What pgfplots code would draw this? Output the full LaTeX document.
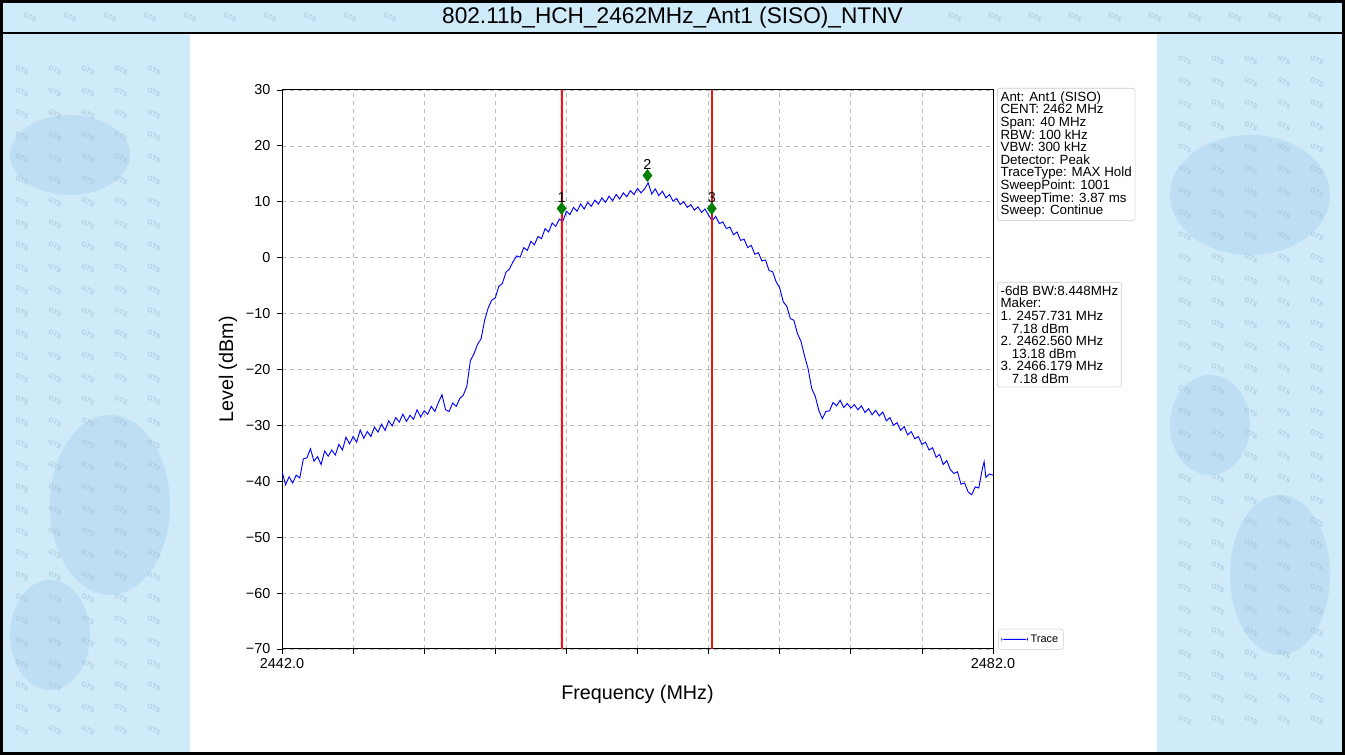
\documentclass[border=0pt]{standalone}
\usepackage{pgfplots}
\pgfplotsset{compat=1.18}
\usepackage{fontspec}
\setmainfont{Liberation Sans}
\definecolor{bgblue}{RGB}{207,234,249}
\definecolor{cloud}{RGB}{190,223,243}
\definecolor{wm}{RGB}{160,190,212}
\definecolor{mkgreen}{RGB}{0,128,0}
\definecolor{vred}{RGB}{240,20,20}
\definecolor{boxgray}{RGB}{204,204,204}

\pgfplotstableread{
f v
2442.0 -38.2
2442.2 -40.6
2442.4 -39.2
2442.6 -40.3
2442.8 -38.9
2443.0 -39.4
2443.2 -36.0
2443.4 -35.8
2443.6 -34.2
2443.8 -36.4
2444.0 -35.6
2444.2 -37.0
2444.4 -34.6
2444.6 -35.5
2444.8 -34.4
2445.0 -35.3
2445.2 -33.4
2445.4 -34.4
2445.6 -32.1
2445.8 -33.3
2446.0 -32.0
2446.2 -33.0
2446.4 -30.8
2446.6 -32.3
2446.8 -31.1
2447.0 -32.0
2447.2 -30.3
2447.4 -31.2
2447.6 -29.8
2447.8 -30.9
2448.0 -29.2
2448.2 -30.1
2448.4 -28.6
2448.6 -29.4
2448.8 -28.0
2449.0 -29.3
2449.2 -28.2
2449.4 -28.9
2449.6 -27.2
2449.8 -28.5
2450.0 -27.4
2450.2 -28.0
2450.4 -26.6
2450.6 -27.5
2450.8 -25.9
2451.0 -24.5
2451.2 -27.2
2451.4 -27.5
2451.6 -26.0
2451.8 -26.6
2452.0 -25.2
2452.2 -24.6
2452.4 -23.0
2452.6 -18.4
2452.8 -17.2
2453.0 -15.5
2453.2 -14.5
2453.4 -11.2
2453.6 -9.0
2453.8 -7.6
2454.0 -7.2
2454.2 -5.1
2454.4 -4.6
2454.6 -2.6
2454.8 -2.0
2455.0 -0.7
2455.2 0.3
2455.4 0.1
2455.6 1.8
2455.8 1.3
2456.0 2.9
2456.2 2.3
2456.4 3.8
2456.6 3.4
2456.8 5.2
2457.0 4.6
2457.2 6.2
2457.4 5.6
2457.6 6.9
2457.8 6.5
2458.0 8.3
2458.2 7.7
2458.4 9.0
2458.6 8.3
2458.8 9.6
2459.0 8.7
2459.2 9.9
2459.4 9.2
2459.6 10.3
2459.8 9.6
2460.0 10.7
2460.2 9.9
2460.4 11.0
2460.6 10.2
2460.8 11.3
2461.0 10.5
2461.2 11.6
2461.4 10.9
2461.6 12.0
2461.8 11.3
2462.0 12.4
2462.2 11.6
2462.4 12.3
2462.6 13.4
2462.8 11.4
2463.0 12.3
2463.2 11.1
2463.4 11.9
2463.6 10.7
2463.8 11.3
2464.0 10.1
2464.2 10.6
2464.4 9.5
2464.6 10.0
2464.8 9.0
2465.0 9.5
2465.2 8.5
2465.4 9.1
2465.6 8.1
2465.8 8.7
2466.0 7.6
2466.2 6.6
2466.4 7.4
2466.6 6.1
2466.8 6.4
2467.0 5.2
2467.2 5.5
2467.4 4.1
2467.6 4.6
2467.8 3.1
2468.0 3.3
2468.2 1.8
2468.4 2.2
2468.6 0.6
2468.8 0.9
2469.0 -0.6
2469.2 -0.4
2469.4 -2.3
2469.6 -2.5
2469.8 -4.3
2470.0 -5.4
2470.2 -7.9
2470.4 -8.7
2470.6 -10.9
2470.8 -11.2
2471.0 -13.6
2471.2 -15.0
2471.4 -17.6
2471.6 -19.9
2471.8 -23.4
2472.0 -24.8
2472.2 -27.3
2472.4 -28.8
2472.6 -27.5
2472.8 -27.4
2473.0 -25.9
2473.2 -26.5
2473.4 -25.5
2473.6 -26.8
2473.8 -26.1
2474.0 -26.9
2474.2 -26.3
2474.4 -27.2
2474.6 -26.5
2474.8 -27.7
2475.0 -27.0
2475.2 -28.1
2475.4 -27.3
2475.6 -28.3
2475.8 -27.6
2476.0 -29.2
2476.2 -28.6
2476.4 -30.0
2476.6 -29.5
2476.8 -30.9
2477.0 -30.2
2477.2 -31.7
2477.4 -31.1
2477.6 -32.4
2477.8 -32.0
2478.0 -33.4
2478.2 -33.0
2478.4 -34.4
2478.6 -34.0
2478.8 -35.7
2479.0 -35.2
2479.2 -37.0
2479.4 -36.3
2479.6 -37.9
2479.8 -38.6
2480.0 -38.3
2480.2 -40.5
2480.4 -40.3
2480.6 -41.9
2480.8 -42.4
2481.0 -41.0
2481.2 -41.2
2481.4 -37.8
2481.5 -36.5
2481.6 -39.3
2481.8 -38.7
2482.0 -38.9
}\trace

\pgfplotstableread{
f v l
2457.731 8.8 1
2462.560 14.7 2
2466.179 8.8 3
}\markers

\begin{document}
\begin{tikzpicture}
\begin{scope}[x=0.75pt,y=0.75pt]
\path[use as bounding box] (0,0) rectangle (1345,755);
\fill[bgblue] (0,0) rectangle (1345,755);
\fill[cloud] (70,600) ellipse (60 and 40);
\fill[cloud] (110,250) ellipse (60 and 90);
\fill[cloud] (50,120) ellipse (40 and 55);
\fill[cloud] (1250,560) ellipse (80 and 60);
\fill[cloud] (1280,180) ellipse (50 and 80);
\fill[cloud] (1210,330) ellipse (40 and 50);
\foreach \yy in {25,47,...,700} {
  \foreach \xx in {22,55,88,121,154} {
    \node[text=wm,font=\fontsize{5}{5}\selectfont,rotate=-25,inner sep=0pt] at (\xx,\yy) {GTS};
    \node[text=wm,font=\fontsize{5}{5}\selectfont,rotate=-25,inner sep=0pt] at (\xx+1163,\yy+10) {GTS};
  }
}
\foreach \xx in {30,70,...,390} {
  \node[text=wm,font=\fontsize{5}{5}\selectfont,rotate=-25,inner sep=0pt] at (\xx,738) {GTS};
  \node[text=wm,font=\fontsize{5}{5}\selectfont,rotate=-25,inner sep=0pt] at (\xx+925,738) {GTS};
}
\fill[white] (190,0) rectangle (1157,722);
\draw[black,line width=2.5pt] (1.7,1.7) rectangle (1343.3,753.3);
\draw[black,line width=1.6pt] (0,722) -- (1345,722);
\node[font=\fontsize{17}{20}\selectfont,anchor=center] at (672.5,737) {802.11b\_HCH\_2462MHz\_Ant1 (SISO)\_NTNV};
\end{scope}

\begin{axis}[
  at={(211.5pt,79.5pt)}, anchor=south west,
  scale only axis, width=533.25pt, height=419.25pt,
  xmin=2442, xmax=2482, ymin=-70, ymax=30,
  xtick={2442,2446,2450,2454,2458,2462,2466,2470,2474,2478,2482},
  xticklabels={2442.0,,,,,,,,,,2482.0},
  ytick={-70,-60,-50,-40,-30,-20,-10,0,10,20,30},
  yticklabels={−70,−60,−50,−40,−30,−20,−10,0,10,20,30},
  tick label style={font=\fontsize{10.8}{12}\selectfont},
  yticklabel style={xshift=-1.5pt},
  tick align=outside, major tick length=3.7pt,
  tick style={black, line width=0.6pt},
  axis line style={black, line width=0.75pt},
  xtick pos=bottom, ytick pos=left,
  grid=major,
  major grid style={gray!55, dashed, line width=0.5pt},
  xlabel={Frequency (MHz)}, ylabel={Level (dBm)},
  every axis x label/.style={at={(axis description cs:0.5,-0.082)}, anchor=center, font=\fontsize{14.8}{16}\selectfont},
  every axis y label/.style={at={(axis description cs:-0.076,0.5)}, anchor=center, rotate=90, font=\fontsize{14.8}{16}\selectfont},
  legend style={at={(rel axis cs:1,0)}, anchor=south west, xshift=4pt, yshift=-0.5pt,
    draw=boxgray, rounded corners=2pt, font=\fontsize{8.2}{9}\selectfont,
    inner sep=2pt, legend cell align=left},
  legend image code/.code={\path[fill=blue, draw=none] (0pt,-0.35pt) rectangle (20pt,0.35pt);},
  clip=true,
]
\addplot[blue, line width=0.7pt] table[x=f,y=v] {\trace};
\addlegendentry{Trace}
\addplot[fill=vred, draw=vred, line width=0.2pt, forget plot]
  coordinates {(2457.690,-70) (2457.772,-70) (2457.772,30) (2457.690,30) (2457.690,-70)};
\addplot[fill=vred, draw=vred, line width=0.2pt, forget plot]
  coordinates {(2466.138,-70) (2466.220,-70) (2466.220,30) (2466.138,30) (2466.138,-70)};
\addplot[only marks, mark=diamond*, mark size=4.5pt, mkgreen, forget plot,
  mark options={fill=mkgreen, draw=mkgreen},
  nodes near coords, point meta=explicit symbolic,
  every node near coord/.append style={font=\fontsize{10.8}{12}\selectfont, text=black, anchor=south, yshift=1pt}]
  table[x=f,y=v,meta=l] {\markers};
\end{axis}

\begin{scope}[x=0.75pt,y=0.75pt]
\node[draw=boxgray, fill=white, rounded corners=2pt, anchor=north west, align=left,
  inner sep=2.5pt, font=\fontsize{10}{9.45}\selectfont] at (997,667)
  {Ant: Ant1 (SISO)\\CENT: 2462 MHz\\Span: 40 MHz\\RBW: 100 kHz\\VBW: 300 kHz\\Detector: Peak\\TraceType: MAX Hold\\SweepPoint: 1001\\SweepTime: 3.87 ms\\Sweep: Continue};
\node[draw=boxgray, fill=white, rounded corners=2pt, anchor=north west, align=left,
  inner sep=2.5pt, font=\fontsize{10}{9.45}\selectfont] at (997,473)
  {-6dB BW:8.448MHz\\Maker:\\1. 2457.731 MHz\\\hspace*{8.5pt}7.18 dBm\\2. 2462.560 MHz\\\hspace*{8.5pt}13.18 dBm\\3. 2466.179 MHz\\\hspace*{8.5pt}7.18 dBm};
\end{scope}
\end{tikzpicture}
\end{document}
